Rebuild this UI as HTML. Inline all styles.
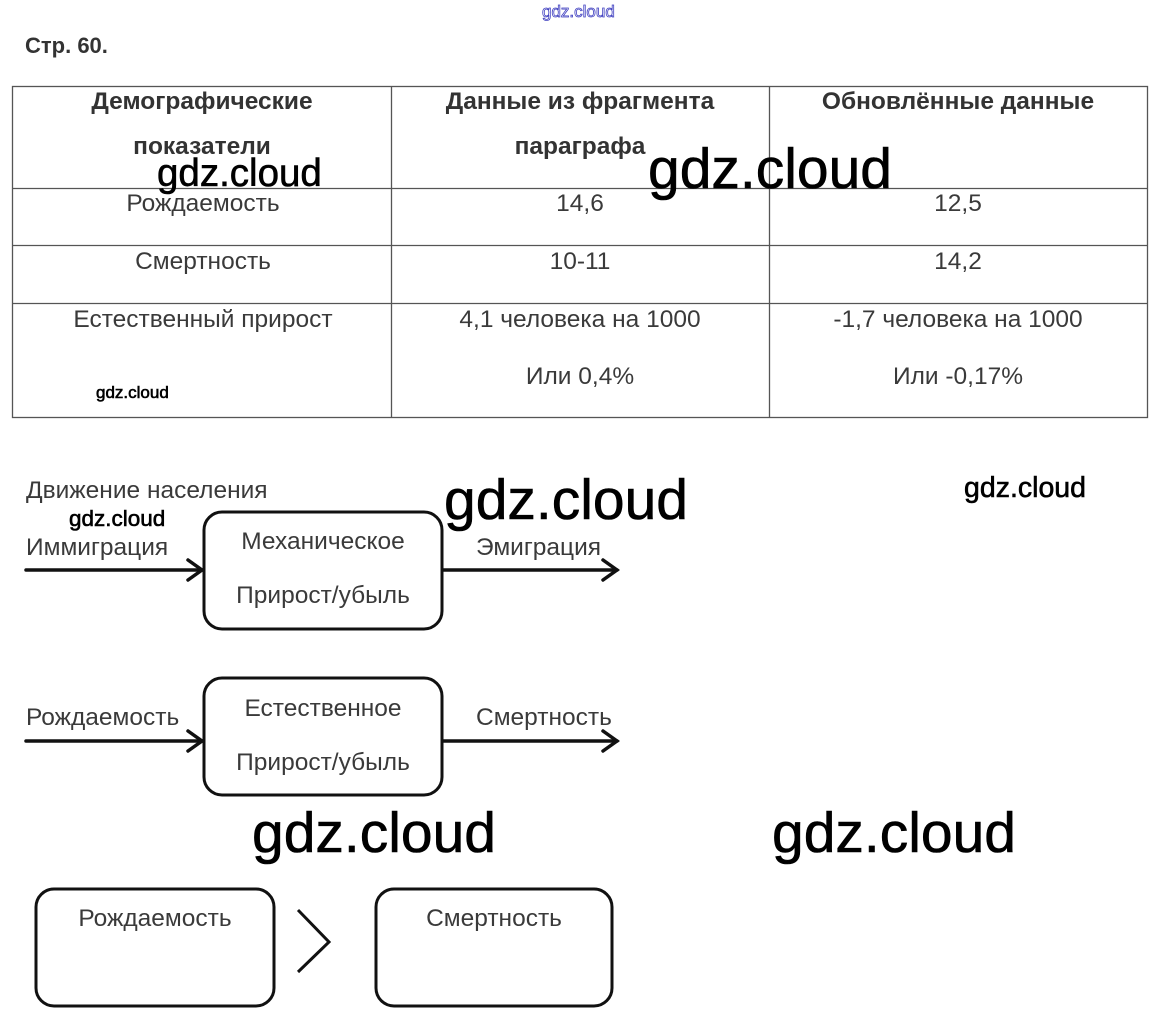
<!DOCTYPE html>
<html><head><meta charset="utf-8"><style>
html,body{margin:0;padding:0;background:#fff;}
svg{display:block;}
text{font-family:"Liberation Sans",sans-serif;}
.t{font-size:24.5px;fill:#3a3a3a;letter-spacing:0px;}
.h{font-size:24.5px;font-weight:bold;fill:#333;}
.w{font-family:"Liberation Sans",sans-serif;fill:#000;stroke:#000;stroke-width:0.6;}
</style></head><body>
<svg width="1160" height="1025" viewBox="0 0 1160 1025" xmlns="http://www.w3.org/2000/svg">
<text x="542" y="17" font-size="17" fill="none" stroke="#4040c0" stroke-width="0.8">gdz.cloud</text>
<text x="25" y="53" font-size="22" font-weight="bold" fill="#333">Стр. 60.</text>
<!-- table -->
<g stroke="#555" stroke-width="1.3" fill="none">
<rect x="12.5" y="86.5" width="1135" height="331"/>
<line x1="391.5" y1="86" x2="391.5" y2="417"/>
<line x1="769.5" y1="86" x2="769.5" y2="417"/>
<line x1="12" y1="188.5" x2="1147" y2="188.5"/>
<line x1="12" y1="245.5" x2="1147" y2="245.5"/>
<line x1="12" y1="303.5" x2="1147" y2="303.5"/>
</g>
<g text-anchor="middle">
<text class="h" x="202" y="109">Демографические</text>
<text class="h" x="202" y="154">показатели</text>
<text class="h" x="580" y="109">Данные из фрагмента</text>
<text class="h" x="580" y="154">параграфа</text>
<text class="h" x="958" y="109">Обновлённые данные</text>
<text class="t" x="203" y="211">Рождаемость</text>
<text class="t" x="580" y="211">14,6</text>
<text class="t" x="958" y="211">12,5</text>
<text class="t" x="203" y="269">Смертность</text>
<text class="t" x="580" y="269">10-11</text>
<text class="t" x="958" y="269">14,2</text>
<text class="t" x="203" y="327">Естественный прирост</text>
<text class="t" x="580" y="327">4,1 человека на 1000</text>
<text class="t" x="958" y="327">-1,7 человека на 1000</text>
<text class="t" x="580" y="384">Или 0,4%</text>
<text class="t" x="958" y="384">Или -0,17%</text>
</g>
<!-- diagram 1 -->
<text class="t" x="26" y="498">Движение населения</text>
<text class="t" x="26" y="555">Иммиграция</text>
<text class="t" x="476" y="555">Эмиграция</text>
<rect x="204" y="512" width="238" height="117" rx="18" fill="none" stroke="#111" stroke-width="3"/>
<text class="t" x="323" y="549" text-anchor="middle">Механическое</text>
<text class="t" x="323" y="603" text-anchor="middle">Прирост/убыль</text>
<g stroke="#111" stroke-width="3.5" fill="none" stroke-linecap="round">
<line x1="26" y1="570" x2="202" y2="570"/><polyline points="188,560 202,570 188,580"/>
<line x1="443" y1="570" x2="617" y2="570"/><polyline points="603,560 617,570 603,580"/>
</g>
<!-- diagram 2 -->
<text class="t" x="26" y="725">Рождаемость</text>
<text class="t" x="476" y="725">Смертность</text>
<rect x="204" y="678" width="238" height="117" rx="18" fill="none" stroke="#111" stroke-width="3"/>
<text class="t" x="323" y="716" text-anchor="middle">Естественное</text>
<text class="t" x="323" y="770" text-anchor="middle">Прирост/убыль</text>
<g stroke="#111" stroke-width="3.5" fill="none" stroke-linecap="round">
<line x1="26" y1="741" x2="202" y2="741"/><polyline points="188,731 202,741 188,751"/>
<line x1="443" y1="741" x2="617" y2="741"/><polyline points="603,731 617,741 603,751"/>
</g>
<!-- bottom -->
<rect x="36" y="889" width="238" height="117" rx="18" fill="none" stroke="#111" stroke-width="3"/>
<rect x="376" y="889" width="236" height="117" rx="18" fill="none" stroke="#111" stroke-width="3"/>
<text class="t" x="155" y="926" text-anchor="middle">Рождаемость</text>
<text class="t" x="494" y="926" text-anchor="middle">Смертность</text>
<polyline points="298,910 329,942 298,972" fill="none" stroke="#111" stroke-width="3"/>
<!-- watermarks -->
<text class="w" x="157" y="186" font-size="38.5">gdz.cloud</text>
<text class="w" x="648" y="188" font-size="57">gdz.cloud</text>
<text class="w" x="96" y="398" font-size="17" stroke-width="0.3">gdz.cloud</text>
<text class="w" x="444" y="519" font-size="57">gdz.cloud</text>
<text class="w" x="964" y="497" font-size="28.5">gdz.cloud</text>
<text class="w" x="69" y="526" font-size="22.5">gdz.cloud</text>
<text class="w" x="252" y="852" font-size="57">gdz.cloud</text>
<text class="w" x="772" y="852" font-size="57">gdz.cloud</text>
</svg>
</body></html>
